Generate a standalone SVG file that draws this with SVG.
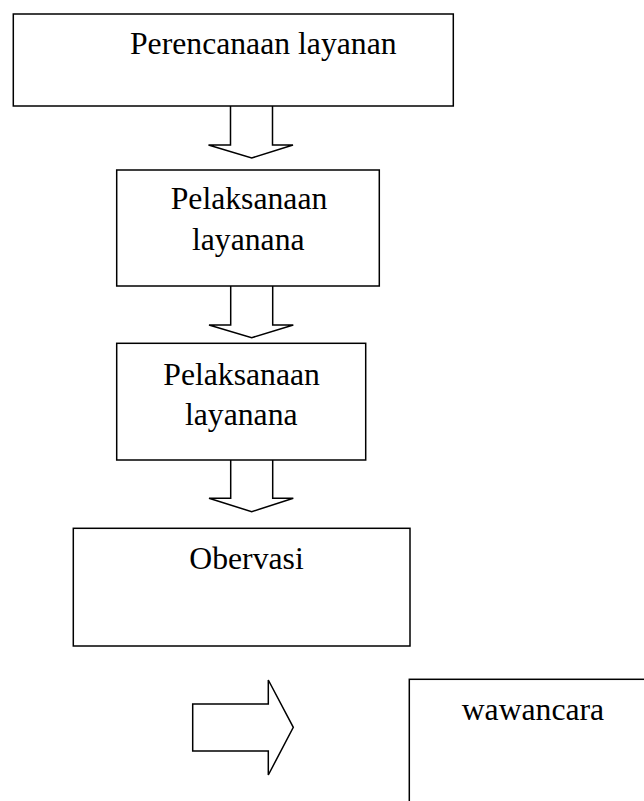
<svg xmlns="http://www.w3.org/2000/svg" width="644" height="801" viewBox="0 0 644 801">
<style>
.box{fill:#fff;stroke:#000;stroke-width:1.5}
.arr{fill:#fff;stroke:#000;stroke-width:1.5;stroke-linejoin:miter}
.t{font-family:"Liberation Serif","Times New Roman",serif;font-size:31.7px;fill:#000}
</style>
<rect width="644" height="801" fill="#fff"/>
<g id="connectors">
<path class="arr" d="M230.5,106 V145 H208.5 L251.7,158 L293,145 H272.5 V106"/>
<path class="arr" d="M230.7,286 V325 H209 L251.7,337.7 L293.3,325 H272.7 V286"/>
<path class="arr" d="M230.7,460 V498.3 H209 L251.7,511.7 L293.3,498.3 H272.7 V460"/>
<path class="arr" d="M192.7,704 H268.3 V680 L293.3,727.3 L268.3,775 V751 H192.7 Z"/>
</g>
<g id="node1">
<rect class="box" x="13.3" y="14" width="440" height="92"/>
<text class="t" x="130" y="54">Perencanaan layanan</text>
</g>
<g id="node2">
<rect class="box" x="116.7" y="170" width="262.6" height="116"/>
<text class="t" x="170.7" y="209">Pelaksanaan</text>
<text class="t" x="192" y="250">layanana</text>
</g>
<g id="node3">
<rect class="box" x="116.7" y="343.3" width="249" height="116.7"/>
<text class="t" x="163.3" y="385">Pelaksanaan</text>
<text class="t" x="185" y="425">layanana</text>
</g>
<g id="node4">
<rect class="box" x="73.3" y="528.3" width="336.7" height="117.7"/>
<text class="t" x="189.3" y="569">Obervasi</text>
</g>
<g id="node5">
<rect class="box" x="409.3" y="679.3" width="240" height="130"/>
<text class="t" x="461.7" y="720">wawancara</text>
</g>
</svg>
